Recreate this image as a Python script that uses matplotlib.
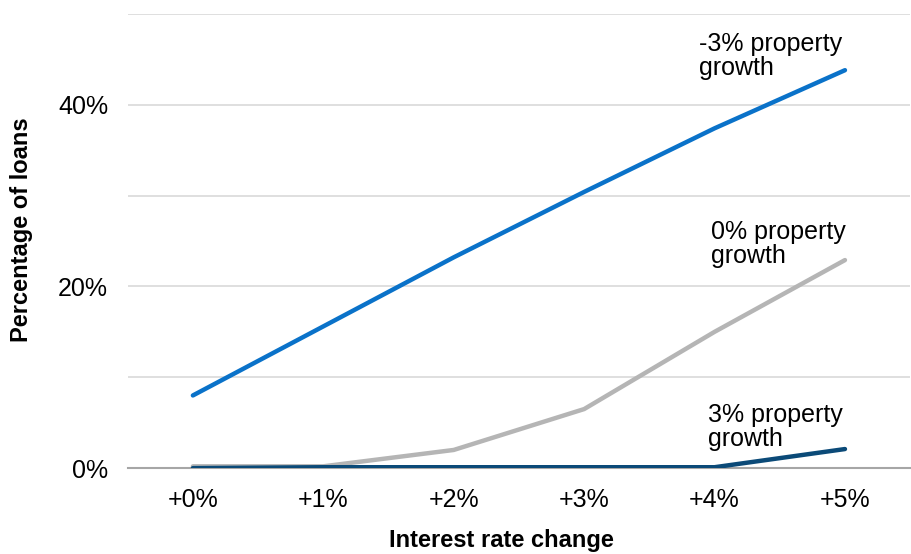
import matplotlib
matplotlib.use("Agg")
import matplotlib.pyplot as plt
from matplotlib.ticker import FixedLocator

plt.rcParams['font.family'] = ['Liberation Sans', 'DejaVu Sans']

# data
rate_change = ['+0%', '+1%', '+2%', '+3%', '+4%', '+5%']
growth_minus3 = [8.0, 15.6, 23.2, 30.4, 37.4, 43.8]
growth_0 = [0.2, 0.2, 2.0, 6.5, 15.0, 22.9]
growth_plus3 = [0.0, 0.1, 0.1, 0.1, 0.1, 2.1]

series = [
    (growth_minus3, '#0A72C9', '-3% property\ngrowth', (3.88, 48.0)),
    (growth_0, '#B5B5B5', '0% property\ngrowth', (3.97, 27.3)),
    (growth_plus3, '#0B4A78', '3% property\ngrowth', (3.95, 7.2)),
]

fig = plt.figure(figsize=(9.12, 5.54), dpi=100)
ax = fig.add_axes([0.140, 0.155, 0.858, 0.82])

x = list(range(len(rate_change)))
for vals, color, label, pos in series:
    ax.plot(x, vals, color=color, lw=3.2, solid_capstyle='round', zorder=3)
    ax.text(pos[0], pos[1], label, fontsize=18, va='top', ha='left', linespacing=1.0)

ax.set_xlim(-0.5, 5.5)
ax.set_ylim(0, 50)
ax.set_xticks(x)
ax.set_xticklabels(rate_change, fontsize=18)
ax.yaxis.set_major_locator(FixedLocator([0, 20, 40]))
ax.set_yticklabels(['0%', '20%', '40%'], fontsize=18)
ax.yaxis.set_minor_locator(FixedLocator([10, 30, 50]))
ax.grid(True, which='both', axis='y', color='#D9D9D9', lw=1.2, zorder=0)
ax.tick_params(axis='both', which='both', length=0)
ax.tick_params(axis='x', pad=14)
ax.tick_params(axis='y', pad=14)

for s in ['top', 'right', 'left']:
    ax.spines[s].set_visible(False)
ax.spines['bottom'].set_color('#A6A6A6')
ax.spines['bottom'].set_linewidth(1.5)

fig.text(501 / 912, 1 - 540 / 554, 'Interest rate change', fontsize=17,
         fontweight='bold', ha='center', va='center')
fig.text(22 / 912, 1 - 230 / 554, 'Percentage of loans', fontsize=17,
         fontweight='bold', ha='center', va='center', rotation=90)

fig.savefig('out.png', dpi=100)
